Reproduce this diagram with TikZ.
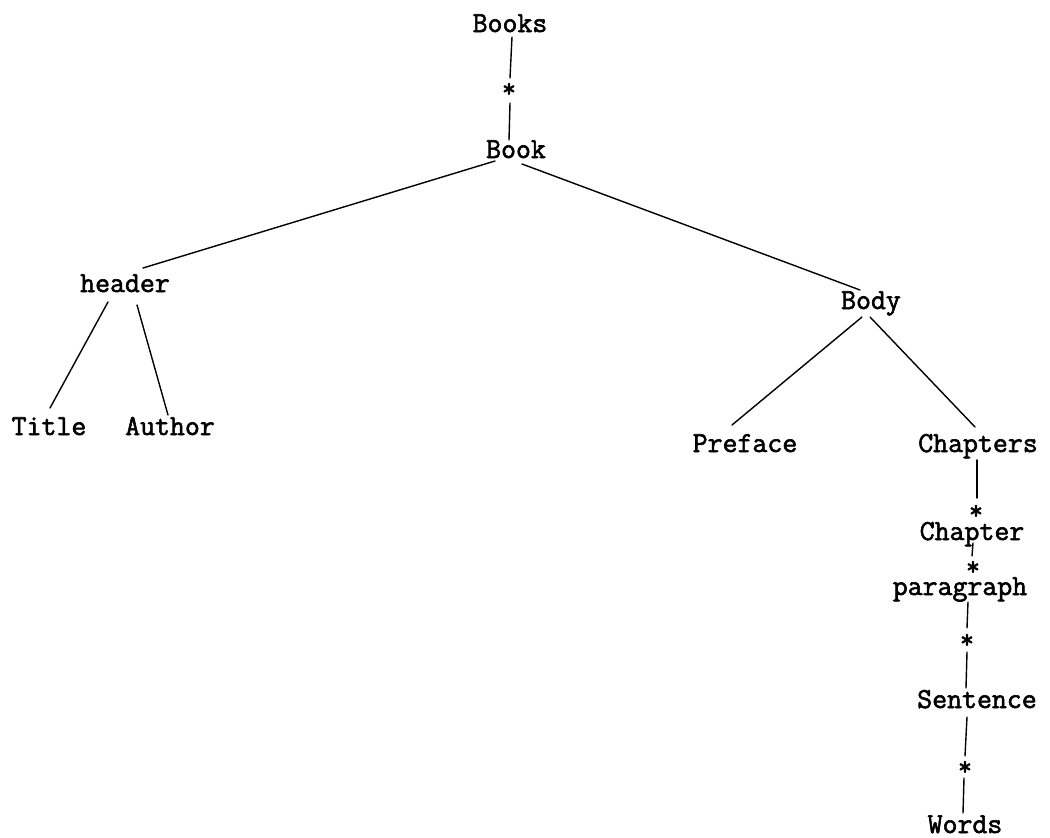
\documentclass[tikz,border=0pt]{standalone}
\usepackage{fontspec}
\newfontfamily\tw{Latin Modern Mono}[FakeBold=2]
\begin{document}
\begin{tikzpicture}[x=1pt,y=-1pt,
  lbl/.style={anchor=base,inner sep=0pt,font=\tw\fontsize{29}{32}\selectfont},
  rep/.style={anchor=center,inner sep=0pt,minimum size=0pt,font=\tw\fontsize{27}{30}\selectfont},
  edge/.style={line width=1.4pt,line cap=round}]
\useasboundingbox[fill=white] (0,0) rectangle (1050,838);
% labels
\node[lbl] (books) at (510,32) {Books};
\node[lbl] (book) at (516,158) {Book};
\node[lbl] (header) at (125,292) {header};
\node[lbl] (body) at (871,309) {Body};
\node[lbl] (title) at (49,435) {Title};
\node[lbl] (author) at (170,435) {Author};
\node[lbl] (preface) at (745,452) {Preface};
\node[lbl] (chapters) at (978,452) {Chapters};
\node[lbl] (chapter) at (972,540) {Chapter};
\node[lbl] (paragraph) at (960,595) {paragraph};
\node[lbl] (sentence) at (977,708) {Sentence};
\node[lbl] (words) at (965,833) {Words};
% repetition marks
\node[rep] (s1) at (509,89) {\raisebox{-0.3em}[0pt][0pt]{*}};
\node[rep] (s2) at (976,511) {\raisebox{-0.3em}[0pt][0pt]{*}};
\node[rep] (s3) at (973,567) {\raisebox{-0.3em}[0pt][0pt]{*}};
\node[rep] (s4) at (967,640) {\raisebox{-0.3em}[0pt][0pt]{*}};
\node[rep] (s5) at (965,767) {\raisebox{-0.3em}[0pt][0pt]{*}};
% connectors
\draw[edge] ([shift={(2,5)}]books.base) -- ([shift={(1,-11)}]s1.center);
\draw[edge] ([shift={(1,14)}]s1.center) -- ([shift={(-7,-18)}]book.base);
\draw[edge] ([shift={(-21,3)}]book.base) -- ([shift={(18,-24)}]header.base);
\draw[edge] ([shift={(6,6)}]book.base) -- ([shift={(-11,-19)}]body.base);
\draw[edge] ([shift={(-17,10)}]header.base) -- ([shift={(1,-27)}]title.base);
\draw[edge] ([shift={(12,13)}]header.base) -- ([shift={(-2,-20)}]author.base);
\draw[edge] ([shift={(-9,8)}]body.base) -- ([shift={(-13,-27)}]preface.base);
\draw[edge] ([shift={(-1,8)}]body.base) -- ([shift={(-3,-25)}]chapters.base);
\draw[edge] ([shift={(-1,8)}]chapters.base) -- ([shift={(1,-13)}]s2.center);
\draw[edge] ([shift={(1,3)}]chapter.base) -- ([shift={(-1,-11)}]s3.center);
\draw[edge] ([shift={(8,7)}]paragraph.base) -- ([shift={(0,-12)}]s4.center);
\draw[edge] ([shift={(0,12)}]s4.center) -- ([shift={(-11,-20)}]sentence.base);
\draw[edge] ([shift={(-10,9)}]sentence.base) -- ([shift={(0,-11)}]s5.center);
\draw[edge] ([shift={(-1,11)}]s5.center) -- ([shift={(-2,-20)}]words.base);
\end{tikzpicture}
\end{document}
